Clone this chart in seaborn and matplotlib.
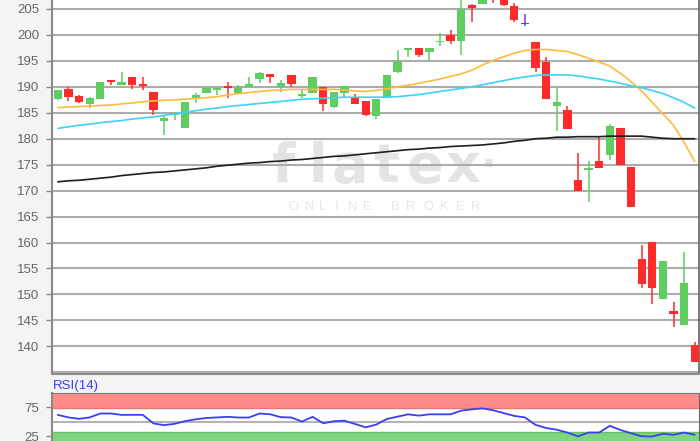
import numpy as np
import pandas as pd
import seaborn as sns
import matplotlib
matplotlib.use('Agg')
import matplotlib.pyplot as plt

# daily candles (oldest -> newest)
opens = [187.6, 189.5, 188.3, 186.6, 187.7, 191.3, 190.4, 191.8, 190.5, 189.0,
         183.4, 184.5, 182.1, 187.6, 188.9, 189.3, 190.0, 188.9, 190.0, 191.6,
         192.5, 189.9, 192.3, 188.4, 188.8, 189.9, 186.1, 188.8, 187.8, 187.3,
         184.3, 188.0, 192.8, 197.1, 197.4, 196.7, 198.6, 199.9, 198.9, 205.8,
         205.9, 208.5, 207.8, 205.6, 202.2, 198.6, 194.8, 186.3, 185.5, 172.1,
         174.0, 175.8, 176.9, 182.0, 174.5, 156.8, 160.2, 149.1, 146.8, 144.1,
         140.3]
highs = [189.4, 190.0, 188.4, 188.1, 191.0, 191.3, 192.8, 191.8, 191.8, 189.1,
         184.6, 185.1, 187.1, 188.9, 190.0, 190.0, 191.0, 190.4, 191.8, 192.9,
         192.5, 191.3, 192.3, 189.4, 191.8, 190.0, 189.1, 190.2, 188.6, 187.3,
         187.7, 192.3, 197.1, 197.5, 197.4, 197.4, 200.3, 201.0, 207.5, 205.9,
         208.0, 209.0, 208.0, 206.1, 204.0, 198.6, 195.8, 189.9, 186.3, 177.2,
         175.8, 180.5, 182.8, 182.0, 174.5, 159.5, 160.2, 156.4, 148.5, 158.1,
         140.8]
lows = [187.5, 187.3, 186.8, 185.9, 187.7, 190.4, 190.4, 189.6, 189.4, 184.6,
        180.7, 183.6, 182.1, 186.8, 188.8, 188.4, 187.8, 188.9, 190.0, 190.7,
        190.7, 189.1, 190.0, 187.8, 188.8, 185.4, 185.9, 188.0, 186.7, 184.4,
        183.8, 188.0, 192.6, 195.8, 195.8, 195.0, 197.9, 198.2, 196.1, 202.4,
        205.9, 206.2, 205.6, 202.4, 201.7, 192.9, 187.7, 181.4, 181.9, 169.9,
        167.9, 174.3, 175.9, 174.9, 166.9, 151.2, 148.2, 149.1, 143.7, 144.1,
        136.9]
closes = [189.3, 188.1, 187.0, 187.8, 191.0, 190.9, 191.0, 190.3, 190.2, 185.5,
          183.9, 185.0, 187.1, 188.5, 189.8, 189.8, 189.8, 189.9, 190.5, 192.6,
          191.8, 190.8, 190.5, 188.6, 191.8, 186.7, 189.1, 190.2, 186.7, 184.6,
          187.7, 192.3, 194.8, 197.4, 196.1, 197.4, 198.9, 198.9, 204.9, 205.1,
          207.8, 207.3, 205.7, 202.9, 202.2, 193.6, 187.7, 187.0, 181.9, 169.9,
          174.3, 174.3, 182.5, 174.9, 166.9, 152.1, 151.2, 156.4, 146.2, 152.3,
          136.9]

sma_orange = [186.0, 186.1, 186.2, 186.3, 186.4, 186.5, 186.7, 186.9, 187.1, 187.3,
              187.4, 187.5, 187.6, 187.8, 187.9, 188.1, 188.4, 188.7, 188.9, 189.1,
              189.3, 189.4, 189.5, 189.5, 189.5, 189.5, 189.5, 189.4, 189.2, 189.1,
              189.3, 189.6, 190.0, 190.3, 190.7, 191.1, 191.5, 192.0, 192.5, 193.2,
              194.2, 195.1, 195.8, 196.5, 197.0, 197.2, 197.2, 197.0, 196.8, 196.2,
              195.5, 194.8, 194.0, 192.6, 191.0, 189.2, 187.0, 184.8, 182.6, 179.3,
              175.6]
sma_cyan = [182.0, 182.3, 182.6, 182.8, 183.1, 183.3, 183.5, 183.8, 184.0, 184.2,
            184.5, 184.8, 185.1, 185.4, 185.7, 185.9, 186.2, 186.4, 186.6, 186.8,
            187.0, 187.2, 187.4, 187.6, 187.7, 187.8, 187.9, 188.0, 188.0, 188.0,
            188.0, 188.0, 188.1, 188.3, 188.5, 188.8, 189.1, 189.4, 189.7, 190.0,
            190.4, 190.8, 191.2, 191.6, 191.9, 192.2, 192.3, 192.3, 192.3, 192.1,
            191.8, 191.5, 191.1, 190.7, 190.2, 189.8, 189.3, 188.7, 187.9, 187.0,
            185.9]
sma_black = [171.7, 171.9, 172.0, 172.2, 172.4, 172.6, 172.9, 173.1, 173.3, 173.5,
             173.6, 173.8, 174.0, 174.2, 174.4, 174.7, 174.9, 175.1, 175.3, 175.4,
             175.6, 175.7, 175.9, 176.0, 176.2, 176.4, 176.6, 176.7, 176.9, 177.1,
             177.3, 177.5, 177.7, 177.9, 178.0, 178.2, 178.3, 178.5, 178.6, 178.7,
             178.8, 179.0, 179.2, 179.5, 179.7, 180.0, 180.1, 180.3, 180.3, 180.4,
             180.4, 180.4, 180.5, 180.5, 180.5, 180.5, 180.3, 180.1, 180.0, 180.0,
             180.0]

rsi = [61.9, 57.5, 55.0, 57.5, 64.3, 64.3, 61.9, 62.0, 62.0, 47.0,
       44.0, 46.3, 51.0, 54.2, 56.5, 57.5, 58.5, 57.3, 57.3, 64.3,
       63.0, 57.9, 57.3, 50.3, 58.5, 47.3, 50.8, 51.8, 46.0, 40.2,
       45.0, 54.8, 58.8, 62.9, 60.6, 62.9, 62.9, 62.9, 69.3, 71.6,
       73.3, 70.0, 65.0, 60.1, 57.5, 44.5, 39.0, 36.0, 31.0, 24.5,
       31.1, 31.1, 42.8, 35.5, 29.9, 24.5, 24.2, 28.9, 27.1, 31.1,
       27.1]

price_ticks = list(range(140, 206, 5))
rsi_ticks = [25, 75]

df = pd.DataFrame({'open': opens, 'high': highs, 'low': lows, 'close': closes,
                   'sma_a': sma_orange, 'sma_b': sma_cyan, 'sma_c': sma_black,
                   'rsi': rsi})
df['idx'] = np.arange(len(df))

UP = '#5fcd5f'
DOWN = '#ff2b2b'
DOJI = '#6a3fd0'


def candle_color(row):
    if row['close'] > row['open']:
        return UP
    if row['close'] < row['open']:
        return DOWN
    return DOJI


df['color'] = df.apply(candle_color, axis=1)

sns.set_style('white')
plt.rcParams['font.family'] = ['Liberation Sans', 'DejaVu Sans']

W, H = 700, 441
fig = plt.figure(figsize=(W / 100, H / 100), dpi=100, facecolor='#f4f4f4')


def fx(px):
    return px / W


def fy(py):
    return 1 - py / H


### price panel
ax = fig.add_axes([fx(52), fy(373.5), fx(699) - fx(52), fy(0) - fy(373.5)])
ax.set_facecolor('white')

# watermark
for ch, px in zip('flatex', [284, 318, 350, 386, 425, 463]):
    ax.text(fx(px), fy(182), ch, transform=fig.transFigure, ha='center', va='baseline',
            fontsize=39, fontweight='bold', color='#e4e4e4', family='DejaVu Sans', zorder=0.5)
ax.text(fx(489), fy(167), '.', transform=fig.transFigure, ha='center', va='baseline',
        fontsize=30, fontweight='bold', color='#e4e4e4', family='DejaVu Sans', zorder=0.5)
for ch, px in zip('ONLINEBROKER', [293, 310, 323, 337, 353, 367, 395, 411, 428, 444, 460, 476]):
    ax.text(fx(px), fy(206.5), ch, transform=fig.transFigure, ha='center', va='center',
            fontsize=9.3, color='#e6e6e6', zorder=0.5)

ax.yaxis.grid(True, color='#acacac', lw=1.5, zorder=1)
ax.axhline(135, color='#acacac', lw=1.5, zorder=1)

# wicks + bodies
ax.vlines(df['idx'], df['low'], df['high'], colors=df['color'], lw=1.1, zorder=3)
body = (df['close'] - df['open']).abs()
ax.bar(df['idx'], np.maximum(body, 0.35), bottom=np.minimum(df['open'], df['close']) - (np.maximum(body, 0.35) - body) / 2,
       width=0.78, color=df['color'], zorder=3, linewidth=0)

sns.lineplot(data=df, x='idx', y='sma_a', ax=ax, color='#ffbb3c', lw=1.2, zorder=4)
sns.lineplot(data=df, x='idx', y='sma_b', ax=ax, color='#3dd2fa', lw=1.2, zorder=4)
sns.lineplot(data=df, x='idx', y='sma_c', ax=ax, color='#1e1e1e', lw=1.2, zorder=4)

ax.set_xlim(-0.55, 60.4)
ax.set_ylim(134.77, 206.73)
ax.set_yticks(price_ticks)
ax.set_xticks([])
ax.set_xlabel('')
ax.set_ylabel('')
ax.tick_params(axis='y', left=True, length=4, width=1, color='#888888',
               labelcolor='#666666', labelsize=9.5, pad=5)
ax.spines['top'].set_visible(False)
ax.spines['left'].set_color('#8a8a8a')
ax.spines['left'].set_linewidth(1.5)
ax.spines['bottom'].set_color('#8a8a8a')
ax.spines['bottom'].set_linewidth(1.5)
ax.spines['right'].set_color('#666666')
ax.spines['right'].set_linewidth(1.2)

### RSI panel
rax = fig.add_axes([fx(52), 0, fx(699) - fx(52), fy(392.5)])
rax.set_facecolor('white')
rax.axhspan(73.5, 101, color='#ff8a8a', lw=0, zorder=0.5)
rax.axhspan(16.3, 32.5, color='#80d580', lw=0, zorder=0.5)
rax.axhline(73.5, color='#e07a7a', lw=1, zorder=0.6)
rax.axhline(32.5, color='#6cc06c', lw=1, zorder=0.6)
rax.axhline(50, color='#b4b4b4', lw=1.5, zorder=1)
sns.lineplot(data=df, x='idx', y='rsi', ax=rax, color='#3a3ff0', lw=1.3, zorder=3)
rax.set_xlim(-0.55, 60.4)
rax.set_ylim(16.3, 101)
rax.set_yticks(rsi_ticks)
rax.set_xticks([])
rax.set_xlabel('')
rax.set_ylabel('')
rax.tick_params(axis='y', left=True, length=4, width=1, color='#888888',
                labelcolor='#666666', labelsize=9.5, pad=5)
rax.spines['bottom'].set_visible(False)
rax.spines['top'].set_color('#777777')
rax.spines['left'].set_color('#8a8a8a')
rax.spines['left'].set_linewidth(1.5)
rax.spines['right'].set_color('#666666')

fig.text(fx(53), fy(386), 'RSI(14)', ha='left', va='center', fontsize=9.5, color='#3a3ff0')

plt.savefig('out.png', dpi=100, facecolor=fig.get_facecolor())
